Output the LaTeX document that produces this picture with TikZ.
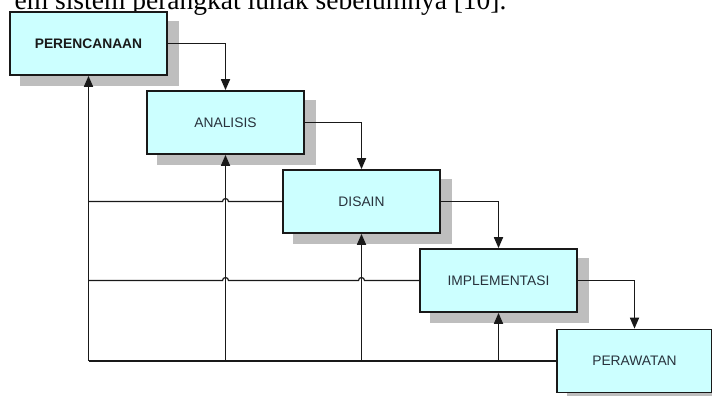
\documentclass[tikz,border=0pt]{standalone}
\usepackage{fontspec}
\setmainfont{Liberation Serif}
\newfontfamily\boxfont{Liberation Sans}
\usetikzlibrary{arrows.meta,backgrounds}
\definecolor{boxfill}{RGB}{204,255,255}
\definecolor{shadowc}{RGB}{190,190,190}
\definecolor{txtc}{RGB}{40,50,60}
\definecolor{linec}{RGB}{25,25,25}
\tikzset{
  stage/.style={draw=linec, line width=1.7pt, fill=boxfill, rectangle,
    minimum width=157pt, minimum height=63pt, inner sep=0pt,
    font=\boxfont\fontsize{13.8}{16}\selectfont, text=txtc},
  conn/.style={draw=linec, line width=1.7pt},
  arr/.style={conn, -{Triangle[length=11pt,width=9pt]}},
  fb/.style={draw=linec, line width=1.2pt},
}
\begin{document}
\begin{tikzpicture}[x=1pt,y=-1pt]
\useasboundingbox (0,0) rectangle (712,396);
\clip (0,0) rectangle (712,396);
\node[anchor=base east, font=\fontsize{27.5}{30}\selectfont] (cap) at (510,9.5) {em sistem perangkat lunak sebelumnya [10].};
\node[stage, font=\boxfont\bfseries\fontsize{13.8}{16}\selectfont, text=black!90] (b1) at (88.5,43.5) {PERENCANAAN};
\node[stage] (b2) at (225.5,122.5) {ANALISIS};
\node[stage] (b3) at (361.5,201.5) {DISAIN};
\node[stage] (b4) at (498.5,280.5) {IMPLEMENTASI};
\node[stage, minimum width=155pt] (b5) at (634.5,361) {PERAWATAN};
\begin{scope}[on background layer]
  \foreach \b in {b1,b2,b3,b4,b5}
    \fill[shadowc] ([shift={(11,10)}]\b.south west) rectangle ([shift={(11,10)}]\b.north east);
\end{scope}
% forward arrows
\draw[arr] (b1.east) -| (b2.north);
\draw[arr] (b2.east) -| (b3.north);
\draw[arr] (b3.east) -| (b4.north);
\draw[arr] (b4.east) -| (b5.north);
% feedback horizontals
\draw[fb] (b5.west) -- (b1.south |- b5.west);
\draw[fb] (b3.west) -- ([xshift=3pt]b2.south |- b3.west) arc(0:-180:3) -- (b1.south |- b3.west);
\draw[fb] (b4.west) -- ([xshift=3pt]b3.south |- b4.west) arc(0:-180:3)
  -- ([xshift=3pt]b2.south |- b4.west) arc(0:-180:3) -- (b1.south |- b4.west);
% feedback verticals
\draw[arr] (b1.south |- b5.west) -- (b1.south);
\draw[arr] (b2.south |- b5.west) -- (b2.south);
\draw[arr] (b3.south |- b5.west) -- (b3.south);
\draw[arr] (b4.south |- b5.west) -- (b4.south);
\end{tikzpicture}
\end{document}
